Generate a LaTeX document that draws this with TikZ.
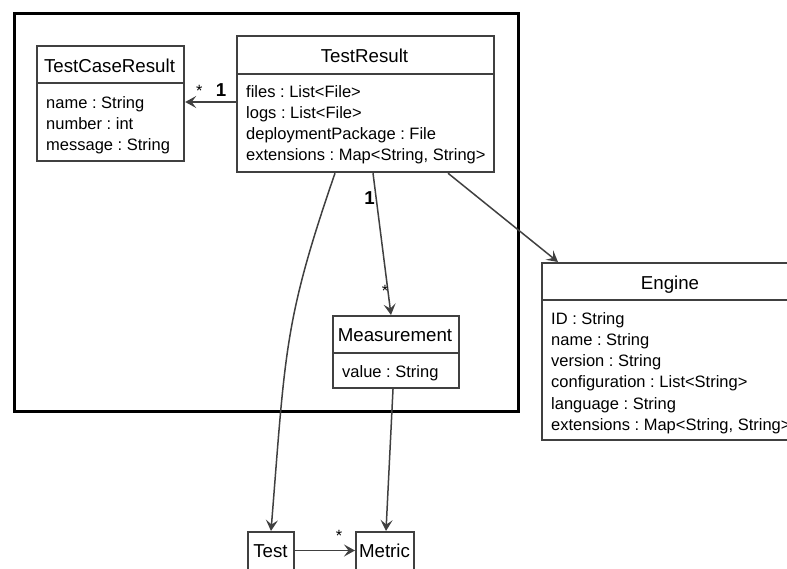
\documentclass[tikz,border=0pt]{standalone}
\usepackage{fontspec}
\setmainfont{Liberation Sans}
\usetikzlibrary{arrows.meta,calc}
\definecolor{edge}{HTML}{404040}
\frenchspacing
\begin{document}
\begin{tikzpicture}[x=1pt,y=-1pt,
  classbox/.style={draw=edge, line width=2.2pt, inner sep=0pt, anchor=north west},
  divider/.style={draw=edge, line width=2.2pt},
  frame/.style={draw=black, line width=3.3pt, inner sep=0pt, anchor=north west},
  ttl/.style={font=\fontsize{18.7}{22}\selectfont, inner sep=0pt, anchor=base},
  attr/.style={font=\fontsize{16.5}{20}\selectfont, inner sep=0pt, anchor=base west},
  mult/.style={font=\fontsize{16.3}{20}\selectfont, inner sep=0pt, anchor=base},
  one/.style={font=\fontsize{18.7}{22}\selectfont\bfseries, inner sep=0pt, anchor=base},
  link/.style={draw=edge, line width=1.5pt, -{Stealth[length=11pt,width=12pt,inset=4.5pt]}}
]
\useasboundingbox (0,0) rectangle (787,568);
\clip (0,0) rectangle (787,568);

% enclosing package frame
\node[frame, minimum width=504.2pt, minimum height=398.5pt] (pkg) at (12.5,11.5) {};

% TestCaseResult
\node[classbox, minimum width=147pt, minimum height=115pt] (tcr) at (36,45) {};
\draw[divider] ($(tcr.north west)+(0,38)$) -- ($(tcr.north east)+(0,38)$);
\node[ttl] (tcr-t) at (109.5,72.7) {TestCaseResult};
\node[attr] (tcr-a1) at (46,108.3) {name : String};
\node[attr] (tcr-a2) at (46,129.3) {number : int};
\node[attr] (tcr-a3) at (46,150.3) {message : String};

% TestResult
\node[classbox, minimum width=257pt, minimum height=136pt] (tr) at (236,35) {};
\draw[divider] ($(tr.north west)+(0,39)$) -- ($(tr.north east)+(0,39)$);
\node[ttl] (tr-t) at (364.5,62.7) {TestResult};
\node[attr] (tr-a1) at (246,97.5) {files : List<File>};
\node[attr] (tr-a2) at (246,118.5) {logs : List<File>};
\node[attr] (tr-a3) at (246,139.5) {deploymentPackage : File};
\node[attr] (tr-a4) at (246,160.5) {extensions : Map<String, String>};

% Measurement
\node[classbox, minimum width=126pt, minimum height=72pt] (meas) at (332,315) {};
\draw[divider] ($(meas.north west)+(0,38)$) -- ($(meas.north east)+(0,38)$);
\node[ttl] (meas-t) at (395,341.7) {Measurement};
\node[attr] (meas-a1) at (342,377.3) {value : String};

% Engine
\node[classbox, minimum width=258pt, minimum height=177pt] (eng) at (541,262) {};
\draw[divider] ($(eng.north west)+(0,38)$) -- ($(eng.north east)+(0,38)$);
\node[ttl] (eng-t) at (670,289) {Engine};
\node[attr] (eng-a1) at (551,324.3) {ID : String};
\node[attr] (eng-a2) at (551,345.5) {name : String};
\node[attr] (eng-a3) at (551,366.7) {version : String};
\node[attr] (eng-a4) at (551,387.9) {configuration : List<String>};
\node[attr] (eng-a5) at (551,409.1) {language : String};
\node[attr] (eng-a6) at (551,430.3) {extensions : Map<String, String>};

% Test and Metric
\node[classbox, minimum width=46pt, minimum height=42pt] (test) at (247,531) {};
\node[ttl] (test-t) at (270.5,557.7) {Test};
\node[classbox, minimum width=58pt, minimum height=42pt] (metric) at (355,531) {};
\node[ttl] (metric-t) at (384.5,557.7) {Metric};

% associations
\draw[link] ($(tr.north west)+(0,67)$) -- ($(tcr.north east)+(0,57)$);
\node[mult] (m-tcr-many) at (199.3,96) {*};
\node[one] (m-tcr-one) at (221,96.7) {1};

\draw[link] ($(tr.south west)+(137,0)$) -- ($(meas.north west)+(59,0)$);
\node[one] (m-meas-one) at (369.5,204) {1};
\node[mult] (m-meas-many) at (385,296.3) {*};

\draw[link] ($(tr.south west)+(212,0)$) -- ($(eng.north west)+(17,0)$);

\draw[link] ($(tr.south west)+(99,0)$) .. controls (284,321) and (285.4,351) .. ($(test.north west)+(24,0)$);

\draw[link] ($(meas.south west)+(61,0)$) -- ($(metric.north west)+(31,0)$);

\draw[link] ($(test.north east)+(0,19.5)$) -- ($(metric.north west)+(0,19.5)$);
\node[mult] (m-metric-many) at (339,541) {*};
\end{tikzpicture}
\end{document}
